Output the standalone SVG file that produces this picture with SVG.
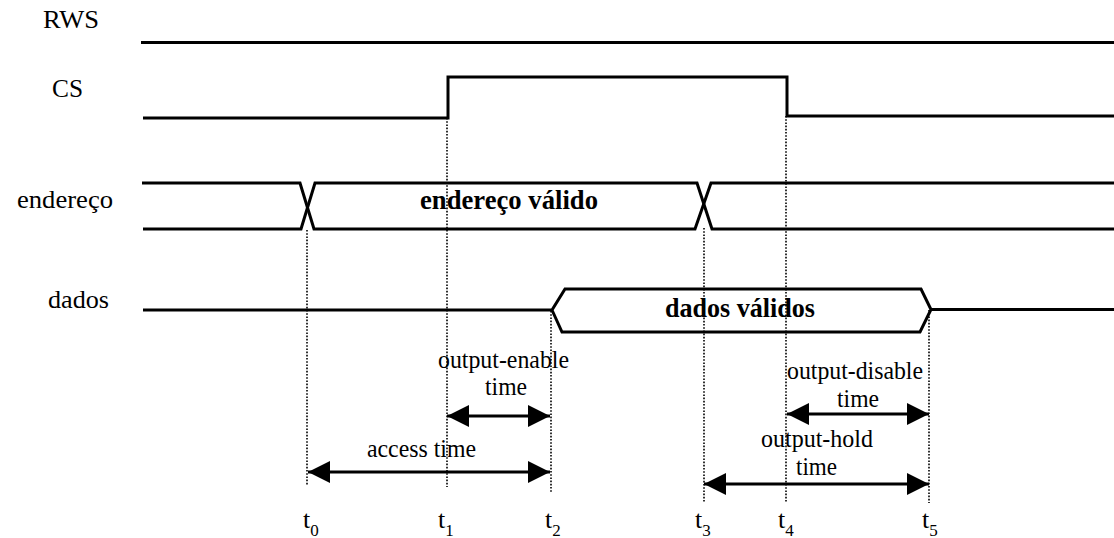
<svg xmlns="http://www.w3.org/2000/svg" width="1114" height="538" viewBox="0 0 1114 538">
<style>
  .sig { fill: none; stroke: #000; stroke-width: 3; stroke-linejoin: miter; }
  .dot { fill: none; stroke: #000; stroke-width: 1.6; stroke-dasharray: 1.6 1.6; }
  .arr { fill: none; stroke: #000; stroke-width: 3; marker-start: url(#ah); marker-end: url(#ah); }
  text { font-family: 'Liberation Serif', 'DejaVu Serif', 'Times New Roman', serif; fill: #000; }
  .lbl { font-size: 25px; }
  .bold { font-size: 27px; font-weight: bold; }
  .tl { font-size: 26px; }
  .sub { font-size: 17px; }
</style>
<defs>
  <marker id="ah" viewBox="0 0 22 22" markerWidth="22" markerHeight="22" refX="22" refY="11" orient="auto-start-reverse" markerUnits="userSpaceOnUse">
    <path d="M0,0 L22,11 L0,22 Z" fill="#000"/>
  </marker>
</defs>
<rect width="1114" height="538" fill="#fff"/>

<g id="labels" font-family="Liberation Serif, serif">
  <text class="lbl" x="43" y="28" textLength="56" lengthAdjust="spacingAndGlyphs">RWS</text>
  <text class="lbl" x="52" y="97" textLength="31" lengthAdjust="spacingAndGlyphs">CS</text>
  <text class="lbl" x="17" y="208" textLength="96" lengthAdjust="spacingAndGlyphs">endereço</text>
  <text class="lbl" x="48" y="308" textLength="61" lengthAdjust="spacingAndGlyphs">dados</text>
</g>

<g id="rws">
  <path class="sig" d="M141,42.5 H1114"/>
</g>

<g id="cs">
  <path class="sig" d="M143,118 H448 V77 H787 V116 H1114"/>
</g>

<g id="endereco" font-family="Liberation Serif, serif">
  <path class="sig" d="M142,183 H300 L314,229 H695 L711,183 H1114"/>
  <path class="sig" d="M143,229 H301 L315,183 H697 L712,229 H1114"/>
  <text class="bold" x="420" y="209" textLength="178" lengthAdjust="spacingAndGlyphs">endereço válido</text>
</g>

<g id="dados" font-family="Liberation Serif, serif">
  <path class="sig" d="M143,310 H552 L565,289 H921 L931,309.5 L920,332 H562 L552,310"/>
  <path class="sig" d="M931,309.5 H1114"/>
  <text class="bold" x="665" y="317" textLength="150" lengthAdjust="spacingAndGlyphs">dados válidos</text>
</g>

<g id="connectors">
  <path class="dot" d="M307,230 V485"/>
  <path class="dot" d="M447,118 V487"/>
  <path class="dot" d="M551,311 V493"/>
  <path class="dot" d="M704,228 V503"/>
  <path class="dot" d="M786,116 V503"/>
  <path class="dot" d="M929,310 V503"/>
  <path class="arr" d="M447,416 H550"/>
  <path class="arr" d="M308,472 H550"/>
  <path class="arr" d="M787,414 H929"/>
  <path class="arr" d="M704,484 H929"/>
</g>

<g id="annotations" font-family="Liberation Serif, serif">
  <text class="lbl" x="438" y="368" textLength="131" lengthAdjust="spacingAndGlyphs">output-enable</text>
  <text class="lbl" x="485" y="395" textLength="42" lengthAdjust="spacingAndGlyphs">time</text>
  <text class="lbl" x="367" y="457" textLength="109" lengthAdjust="spacingAndGlyphs">access time</text>
  <text class="lbl" x="787" y="379" textLength="136" lengthAdjust="spacingAndGlyphs">output-disable</text>
  <text class="lbl" x="837" y="407" textLength="42" lengthAdjust="spacingAndGlyphs">time</text>
  <text class="lbl" x="761" y="447" textLength="112" lengthAdjust="spacingAndGlyphs">output-hold</text>
  <text class="lbl" x="796" y="475" textLength="41" lengthAdjust="spacingAndGlyphs">time</text>
</g>

<g id="times" font-family="Liberation Serif, serif">
  <text class="tl" x="303" y="528">t<tspan class="sub" dy="8">0</tspan></text>
  <text class="tl" x="438" y="528">t<tspan class="sub" dy="8">1</tspan></text>
  <text class="tl" x="545" y="528">t<tspan class="sub" dy="8">2</tspan></text>
  <text class="tl" x="695" y="528">t<tspan class="sub" dy="8">3</tspan></text>
  <text class="tl" x="778" y="528">t<tspan class="sub" dy="8">4</tspan></text>
  <text class="tl" x="922" y="528">t<tspan class="sub" dy="8">5</tspan></text>
</g>
</svg>
